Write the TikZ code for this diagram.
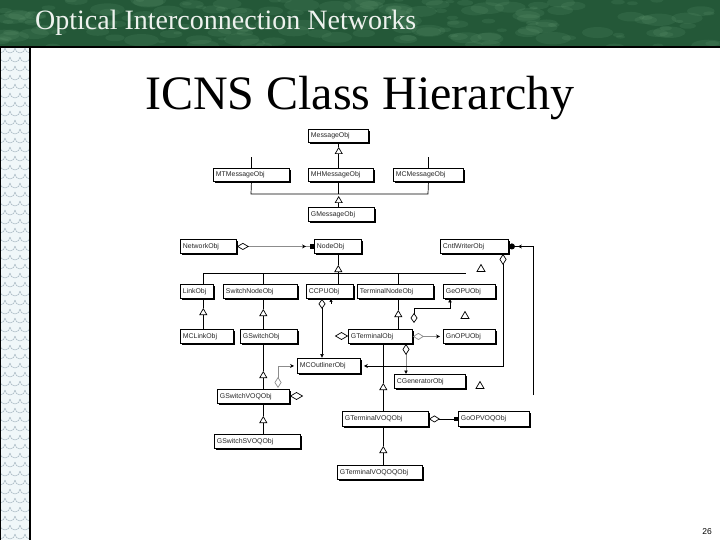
\documentclass[tikz,border=0pt]{standalone}
\usepackage{fontspec}
\setmainfont{Liberation Serif}
\newfontfamily\boxfont{Liberation Sans}
\usetikzlibrary{arrows.meta,shadows,calc}

\definecolor{hdrgreen}{RGB}{36,88,56}
\definecolor{hdrlight}{RGB}{120,175,135}
\definecolor{stripbg}{RGB}{240,247,249}
\definecolor{stripln}{RGB}{165,182,192}

\tikzset{
  cls/.style={draw=black, line width=0.9pt, fill=white, inner sep=0pt, anchor=north west,
    font=\boxfont\fontsize{6.9}{7.5}\selectfont, text=black!85,
    drop shadow={shadow xshift=1.1pt, shadow yshift=-1.1pt, fill=black, opacity=1}},
  ln/.style={line width=0.7pt, black},
  faint/.style={line width=0.6pt, black!45},
  inh/.style={ln, -{Triangle[open, length=7pt, width=8pt, line width=0.7pt]}},
  aggst/.style={{Diamond[open, length=11pt, width=7pt, line width=0.7pt]}-{Stealth[length=4pt, width=4pt, sep=3pt, black]}},
  aggsq/.style={ln, {Diamond[open, length=11pt, width=7pt]}-{Square[length=4pt, width=4pt]}},
  aggla/.style={ln, {Diamond[open, length=10pt, width=7pt]}-{Latex[length=4pt, width=4pt]}},
  netassoc/.style={faint, {Diamond[open, length=12pt, width=7pt, black, line width=0.7pt]}-{Stealth[length=4pt, width=4pt, sep=4pt, black]Square[length=4pt, width=5pt, black]}},
  circassoc/.style={ln, -{Stealth[length=4pt, width=4pt, sep=3pt]Circle[length=6pt, width=6pt]}},
}

\newcommand\umlbox[6]{\node[cls, minimum height=#5pt] (#1) at (#2,#3) {\makebox[#4pt][l]{\hspace{2.5pt}#6}};}
\newcommand\freetri[3]{\coordinate (#1) at (#2,#3);
  \draw[ln] ($(#1)+(-4,3.5)$) -- ($(#1)+(0,-3.5)$) -- ($(#1)+(4,3.5)$) -- cycle;}
\newcommand\freedia[3]{\coordinate (#1) at (#2,#3);
  \draw[ln] ($(#1)+(-6,0)$) -- ($(#1)+(0,-3.5)$) -- ($(#1)+(6,0)$) -- ($(#1)+(0,3.5)$) -- cycle;}

\begin{document}
\begin{tikzpicture}[x=1pt,y=-1pt]
\useasboundingbox (0,0) rectangle (720,540);
\fill[white] (0,0) rectangle (720,540);
% header band
\fill[hdrgreen] (0,0) rectangle (720,47);
\begin{scope}
  \clip (0,0) rectangle (720,47);
  \pgfmathsetseed{11}
  \foreach \i in {1,...,160}{
    \pgfmathsetmacro\xx{rnd*720}
    \pgfmathsetmacro\yy{rnd*47}
    \pgfmathsetmacro\rr{4+rnd*14}
    \fill[hdrlight, opacity=0.13] (\xx,\yy) ellipse ({\rr} and {\rr*0.35});
  }
\end{scope}
\draw[black, line width=1.5pt] (0,47) -- (720,47);
\node[anchor=base west, text={rgb,255:red,238;green,242;blue,238}, font=\fontsize{28}{30}\selectfont, inner sep=0pt] (hdr) at (35,30) {Optical Interconnection Networks};

% left strip
\fill[stripbg] (0,48) rectangle (30,540);
\begin{scope}
  \clip (0,48) rectangle (30,540);
  \foreach \r in {0,...,55}{
    \foreach \c in {0,...,3}{
      \pgfmathsetmacro\xx{\c*10 + mod(\r,2)*5 - 5}
      \pgfmathsetmacro\yy{48+\r*9}
      \draw[stripln, line width=0.45pt] (\xx,\yy) arc (180:0:5);
    }
  }
\end{scope}
\draw[black, line width=1.4pt] (30,47) -- (30,540);
\draw[black, line width=0.8pt] (0.4,47) -- (0.4,540);

% title and page number
\node[anchor=base west, font=\fontsize{48}{50}\selectfont, inner sep=0pt] (title) at (145,110) {ICNS Class Hierarchy};
\node[anchor=base east, font=\boxfont\fontsize{8.5}{10}\selectfont, inner sep=0pt] (pnum) at (712,534) {26};

% class boxes
\umlbox{msg}{308}{129}{60}{13}{MessageObj}
\umlbox{mt}{213}{168}{76}{13}{MTMessageObj}
\umlbox{mh}{308}{168}{65}{13}{MHMessageObj}
\umlbox{mc}{393}{168}{70}{13}{MCMessageObj}
\umlbox{gmsg}{308}{207}{66}{14}{GMessageObj}
\umlbox{net}{180}{239}{56}{14}{NetworkObj}
\umlbox{node}{314}{239}{47}{14}{NodeObj}
\umlbox{cw}{440}{239}{68}{14}{CntlWriterObj}
\umlbox{link}{180}{284}{33}{14}{LinkObj}
\umlbox{sw}{223}{284}{74}{14}{SwitchNodeObj}
\umlbox{cpu}{306}{284}{47}{14}{CCPUObj}
\umlbox{tn}{357}{284}{76}{14}{TerminalNodeObj}
\umlbox{geopu}{443}{284}{52}{14}{GeOPUObj}
\umlbox{mclink}{180}{329}{53}{14}{MCLinkObj}
\umlbox{gsw}{240}{329}{57}{14}{GSwitchObj}
\umlbox{gterm}{348}{329}{64}{14}{GTerminalObj}
\umlbox{gnopu}{443}{329}{52}{14}{GnOPUObj}
\umlbox{mcout}{297}{358}{63}{15}{MCOutlinerObj}
\umlbox{cgen}{394}{374}{71}{14}{CGeneratorObj}
\umlbox{gswvoq}{217}{389}{72}{14}{GSwitchVOQObj}
\umlbox{gswsvoq}{214}{434}{86}{14}{GSwitchSVOQObj}
\umlbox{gtvoq}{342}{411}{86}{15}{GTerminalVOQObj}
\umlbox{goopvoq}{458}{411}{71}{15}{GoOPVOQObj}
\umlbox{gtvoqoq}{337}{465}{85}{14}{GTerminalVOQOQObj}

% generalization apex points
\coordinate (a1) at (338.7,147);
\coordinate (a2) at (338.7,196);
\coordinate (a3) at (338.3,265);
\coordinate (a4) at (203.3,308);
\coordinate (a5) at (263.3,309);
\coordinate (a6) at (398.3,310);
\coordinate (a7) at (263.3,371);
\coordinate (a8) at (263.3,416);
\coordinate (a9) at (383.3,383);
\coordinate (a10) at (383.3,446);

% message hierarchy
\draw[inh] (a1 |- mh.north) -- (a1);
\draw[ln] (a1) -- (a1 |- msg.south);
\draw[ln] (mt.north) -- ++(0,-11);
\draw[ln] (mc.north) -- ++(0,-11);
\coordinate (mbusL) at (251,194);
\coordinate (mbusR) at (428,194);
\draw[ln] (mt.south) -- (mbusL) -- (mbusR) -- (mc.south);
\draw[ln] (a2 |- mh.south) -- (a2 |- mbusL);
\draw[inh] (a2 |- gmsg.north) -- (a2);

% node hierarchy
\coordinate (nbusL) at (203.3,273.7);
\coordinate (nbusR) at (466,273.7);
\draw[ln] (nbusL) -- (nbusR);
\draw[inh] (a3 |- nbusL) -- (a3);
\draw[ln] (a3) -- (a3 |- node.south);
\draw[ln] (nbusL) -- (nbusL |- link.north);
\draw[ln] (a5 |- nbusL) -- (a5 |- sw.north);
\draw[ln] (a3 |- nbusL) -- (a3 |- cpu.north);
\draw[ln] (a6 |- nbusL) -- (a6 |- tn.north);

\draw[inh] (a4 |- mclink.north) -- (a4);  \draw[ln] (a4) -- (a4 |- link.south);
\draw[inh] (a5 |- gsw.north) -- (a5);     \draw[ln] (a5) -- (a5 |- sw.south);
\draw[inh] (a6 |- gterm.north) -- (a6);   \draw[ln] (a6) -- (a6 |- tn.south);
\draw[inh] (a7 |- gswvoq.north) -- (a7);  \draw[ln] (a7) -- (a7 |- gsw.south);
\draw[inh] (a8 |- gswsvoq.north) -- (a8); \draw[ln] (a8) -- (a8 |- gswvoq.south);
\draw[inh] (a9 |- gtvoq.north) -- (a9);   \draw[ln] (a9) -- (a9 |- gterm.south);
\draw[inh] (a10 |- gtvoqoq.north) -- (a10); \draw[ln] (a10) -- (a10 |- gtvoq.south);

% associations
\draw[netassoc] (net.east) -- (node.west);

\coordinate (cpuD) at (322,0);
\draw[aggla] (cpuD |- cpu.south) -- (cpuD |- mcout.north);
\coordinate (cpuT) at (331,303.5);
\draw[ln, -{Latex[length=3pt, width=3.5pt]}] (cpuT) -- (cpuT |- cpu.south);

\coordinate (gtD) at (414,323);
\coordinate (geoB) at (450,308);
\draw[ln, {Diamond[open, length=10pt, width=7pt]}-{Latex[length=3.5pt, width=4pt]}] (gtD) |- (geoB) -- (geoB |- geopu.south);

\freedia{gtLd}{341.5}{336}
\draw[faint, aggst] (gterm.east) -- (gnopu.west);

\coordinate (gtB) at (406,0);
\draw[faint, {Diamond[open, length=11pt, width=7pt, black, line width=0.7pt]}-{Latex[length=3.5pt, width=4pt, black]}] (gtB |- gterm.south) -- (gtB |- cgen.north);

\draw[aggsq] (gtvoq.east) -- (goopvoq.west);

\coordinate (gvD) at (278,388);
\draw[faint, aggst] (gvD) |- (mcout.west);
\freedia{gvRd}{296.5}{396}

\coordinate (cwD) at (503,0);
\draw[ln, aggst] (cwD |- cw.south) |- (mcout.east);

\coordinate (rEnd) at (533,395);
\draw[circassoc] (rEnd) |- (cw.east);

% stray generalization marks
\freetri{t1}{481}{268}
\freetri{t2}{465}{315}
\freetri{t3}{480}{385}
\end{tikzpicture}
\end{document}
